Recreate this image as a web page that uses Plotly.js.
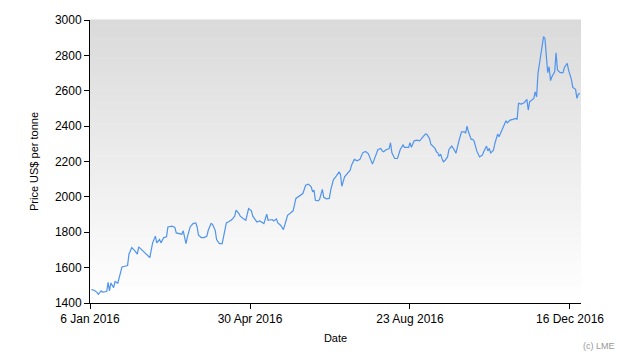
<!DOCTYPE html>
<html>
<head>
<meta charset="utf-8">
<script src="https://cdn.plot.ly/plotly-3.0.1.min.js"></script>
<style>
  html, body { margin: 0; padding: 0; background: #ffffff; }
  #chart { width: 630px; height: 360px; }
</style>
</head>
<body>
<div id="chart"></div>
<script>
// Dates (2016) and LME prices, US$ per tonne
const dates = [
  "2016-01-07","2016-01-09","2016-01-11","2016-01-12","2016-01-14","2016-01-15","2016-01-18","2016-01-19",
  "2016-01-20","2016-01-21","2016-01-23","2016-01-24","2016-01-26","2016-01-28","2016-01-29","2016-01-31",
  "2016-02-02","2016-02-03","2016-02-05","2016-02-07","2016-02-09","2016-02-10","2016-02-12","2016-02-15",
  "2016-02-18","2016-02-20","2016-02-22","2016-02-23","2016-02-25","2016-02-26","2016-02-28",
  "2016-03-01","2016-03-02","2016-03-05","2016-03-07","2016-03-08","2016-03-10","2016-03-12","2016-03-13",
  "2016-03-14","2016-03-15","2016-03-16","2016-03-18","2016-03-20","2016-03-22","2016-03-23","2016-03-24",
  "2016-03-26","2016-03-28","2016-03-30","2016-03-31",
  "2016-04-02","2016-04-03","2016-04-05","2016-04-06","2016-04-08","2016-04-10","2016-04-11","2016-04-13",
  "2016-04-15","2016-04-17","2016-04-19","2016-04-20","2016-04-22","2016-04-23","2016-04-25","2016-04-27",
  "2016-04-29",
  "2016-05-01","2016-05-02","2016-05-05","2016-05-07","2016-05-10","2016-05-12","2016-05-13","2016-05-16",
  "2016-05-17","2016-05-19","2016-05-20","2016-05-22","2016-05-24","2016-05-26","2016-05-27","2016-05-30",
  "2016-05-31",
  "2016-06-02","2016-06-04","2016-06-07","2016-06-09","2016-06-11","2016-06-13","2016-06-14","2016-06-15",
  "2016-06-16","2016-06-18","2016-06-19","2016-06-21","2016-06-22","2016-06-24","2016-06-26","2016-06-27",
  "2016-06-29",
  "2016-07-01","2016-07-03","2016-07-04","2016-07-05","2016-07-07","2016-07-09","2016-07-11","2016-07-12",
  "2016-07-14","2016-07-16","2016-07-18","2016-07-20","2016-07-22","2016-07-24","2016-07-26","2016-07-27",
  "2016-07-29","2016-07-31",
  "2016-08-02","2016-08-03","2016-08-04","2016-08-06","2016-08-08","2016-08-09","2016-08-10","2016-08-12",
  "2016-08-14","2016-08-16","2016-08-18","2016-08-19","2016-08-22","2016-08-23","2016-08-24","2016-08-26",
  "2016-08-28","2016-08-30",
  "2016-09-01","2016-09-03","2016-09-04","2016-09-06","2016-09-07","2016-09-10","2016-09-11","2016-09-12",
  "2016-09-13","2016-09-14","2016-09-15","2016-09-16","2016-09-17","2016-09-19","2016-09-20","2016-09-22",
  "2016-09-24","2016-09-25","2016-09-27","2016-09-29",
  "2016-10-01","2016-10-02","2016-10-03","2016-10-04","2016-10-06","2016-10-07","2016-10-08","2016-10-10",
  "2016-10-12","2016-10-14","2016-10-15","2016-10-17","2016-10-18","2016-10-19","2016-10-20","2016-10-22",
  "2016-10-23","2016-10-25","2016-10-26","2016-10-28","2016-10-29","2016-10-31",
  "2016-11-01","2016-11-03","2016-11-05","2016-11-07","2016-11-08","2016-11-09","2016-11-11","2016-11-13",
  "2016-11-15","2016-11-16","2016-11-17","2016-11-20","2016-11-21","2016-11-22","2016-11-23","2016-11-25",
  "2016-11-27","2016-11-28","2016-11-29","2016-11-30",
  "2016-12-01","2016-12-02","2016-12-03","2016-12-05","2016-12-06","2016-12-07","2016-12-09","2016-12-11",
  "2016-12-12","2016-12-14","2016-12-15","2016-12-17","2016-12-18","2016-12-20","2016-12-21","2016-12-22",
  "2016-12-23"
];
const prices = [
  1476,1472,1460,1449,1468,1461,1465,1517,
  1468,1513,1487,1521,1513,1585,1604,1608,
  1612,1676,1713,1698,1676,1717,1702,1683,
  1657,1740,1778,1740,1759,1740,1770,
  1774,1830,1834,1827,1796,1793,1789,1808,
  1774,1736,1774,1830,1849,1853,1830,1783,
  1770,1770,1778,1811,
  1849,1845,1811,1759,1736,1736,1774,1853,
  1861,1872,1891,1925,1906,1891,1878,1868,
  1934,
  1921,1891,1858,1864,1849,1902,1868,1872,
  1864,1875,1853,1840,1815,1868,1896,1915,
  1921,
  1991,2004,2019,2066,2072,2057,2028,2038,
  1981,1977,1985,2042,1997,1989,1991,2038,
  2098,
  2117,2140,2128,2060,2113,2132,2151,2179,
  2212,2204,2212,2249,2257,2245,2208,2185,
  2226,2268,
  2274,2260,2255,2268,2272,2306,2249,2217,
  2217,2268,2294,2280,2280,2306,2280,2317,
  2321,2317,
  2336,2355,2355,2330,2298,2274,2255,2249,
  2230,2242,2217,2198,2204,2226,2268,2287,
  2264,2246,2311,2368,
  2368,2362,2400,2368,2325,2325,2317,2260,
  2226,2236,2255,2287,2260,2274,2249,2264,
  2302,2355,2340,2374,2400,2430,
  2419,2434,2438,2444,2438,2529,2525,2532,
  2551,2491,2538,2557,2594,2566,2698,2812,
  2906,2896,2774,2702,
  2736,2657,2679,2707,2815,2717,2702,2702,
  2732,2755,2717,2664,2619,2608,2557,2581,
  2585
];
const tickDates = ["2016-01-06", "2016-04-30", "2016-08-23", "2016-12-16"];
const tickLabels = ["6 Jan 2016", "30 Apr 2016", "23 Aug 2016", "16 Dec 2016"];
const yTicks = [1400, 1600, 1800, 2000, 2200, 2400, 2600, 2800, 3000];

// background gradient bands (style only)
const shapes = [];
const nBands = 60;
for (let i = 0; i < nBands; i++) {
  const t = i / (nBands - 1);
  const c = Math.round(255 - (255 - 218) * t);
  shapes.push({
    type: 'rect', xref: 'paper', yref: 'paper', layer: 'below',
    x0: 0, x1: 1, y0: i / nBands, y1: (i + 1) / nBands + 0.002,
    fillcolor: `rgb(${c},${c},${c})`, line: { width: 0 }
  });
}

const trace = {
  x: dates, y: prices, type: 'scatter', mode: 'lines',
  line: { color: '#4f94ee', width: 1.2 },
  hoverinfo: 'skip'
};

const font = { family: 'Liberation Sans, Arial, sans-serif', size: 12, color: '#000000' };

const layout = {
  width: 630, height: 360,
  margin: { l: 90, r: 49, t: 20, b: 57 },
  paper_bgcolor: '#ffffff', plot_bgcolor: '#ffffff',
  showlegend: false,
  font: font,
  shapes: shapes,
  xaxis: {
    type: 'date',
    range: ['2016-01-06', '2016-12-23 22:00'],
    tickvals: tickDates, ticktext: tickLabels,
    ticks: 'outside', ticklen: 5, tickcolor: '#000', tickwidth: 1,
    showline: true, linecolor: '#000', linewidth: 1,
    showgrid: false, zeroline: false,
    tickfont: font,
    title: { text: 'Date', font: { family: font.family, size: 11, color: '#000' }, standoff: 8 }
  },
  yaxis: {
    range: [1400, 3000],
    tickvals: yTicks,
    ticks: 'outside', ticklen: 5, tickcolor: '#000', tickwidth: 1,
    showline: true, linecolor: '#000', linewidth: 1,
    showgrid: false, zeroline: false,
    tickfont: font,
    title: { text: 'Price US$ per tonne', font: { family: font.family, size: 11, color: '#000' }, standoff: 14 }
  },
  annotations: [{
    text: '(c) LME', xref: 'paper', yref: 'paper',
    x: 1.073, y: -0.128, xanchor: 'right', yanchor: 'top', showarrow: false,
    font: { family: font.family, size: 9, color: '#999999' }
  }]
};

Plotly.newPlot('chart', [trace], layout, { staticPlot: true, displayModeBar: false });
</script>
</body>
</html>
